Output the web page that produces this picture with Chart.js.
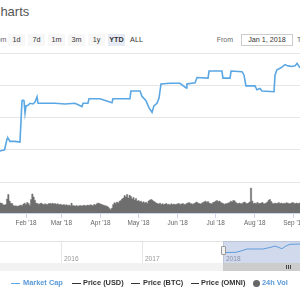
<!DOCTYPE html>
<html>
<head>
<meta charset="utf-8">
<script src="https://cdn.jsdelivr.net/npm/chart.js@4.4.1/dist/chart.umd.min.js"></script>
<style>
  html, body { margin: 0; padding: 0; width: 300px; height: 300px; overflow: hidden; background: #fff; font-family: "Liberation Sans", Arial, sans-serif; }
  .abs { position: absolute; }
  #titulo { left: -9px; top: 5px; font-size: 13px; line-height: 13px; color: #555; white-space: nowrap; }
  .btn { position: absolute; top: 34px; width: 17px; height: 12px; line-height: 12px; text-align: center; font-size: 7.2px; color: #333; background: #f7f7f7; }
  .btn.ativo { background: #e6ebf5; font-weight: bold; }
  .btn.livre { background: transparent; }
  #zoomTxt { left: -12px; top: 34px; line-height: 12px; font-size: 7.2px; color: #666; }
  #deTxt { left: 200px; top: 34px; width: 33px; text-align: right; line-height: 12px; font-size: 7px; color: #666; }
  #dataIni { left: 241px; top: 34px; width: 52px; height: 12px; box-sizing: border-box; border: 1px solid #ccc; text-align: center; line-height: 10px; font-size: 7.2px; color: #333; }
  #ateTxt { left: 297px; top: 34px; line-height: 12px; font-size: 7px; color: #666; }
  canvas { position: absolute; left: 0; }
  #navBorda { left: 0; top: 241px; width: 300px; height: 1px; background: #e2e2e2; }
  #mascara { top: 241px; height: 22px; width: 120px; background: rgba(102,133,194,0.3); }
  #alca { top: 246px; width: 5px; height: 9px; box-sizing: border-box; border: 1px solid #999; border-radius: 1px; background: #f2f2f2; }
  #trilha { left: 0; top: 263px; width: 300px; height: 8px; background: #f2f2f2; }
  #polegar { top: 263px; height: 8px; width: 120px; background: #cccccc; }
  .grip { top: 265px; width: 1px; height: 4px; background: #444; }
  .ano { top: 254.5px; font-size: 6.6px; line-height: 7px; color: #999; }
  .leg { position: absolute; top: 279px; font-size: 7.4px; line-height: 8px; font-weight: bold; color: #333; white-space: nowrap; }
  .simb { position: absolute; top: 282.6px; height: 1.4px; background: #333; }
  .azul { color: #5a9ad8; }
</style>
</head>
<body>
<div id="titulo" class="abs">Charts</div>
<div id="zoomTxt" class="abs">Zoom</div>
<div id="botoes"></div>
<div id="deTxt" class="abs">From</div>
<div id="dataIni" class="abs">Jan 1, 2018</div>
<div id="ateTxt" class="abs">To</div>

<canvas id="graficoVolume" width="340" height="49" style="top:179px"></canvas>
<canvas id="graficoMercado" width="340" height="135" style="top:50px"></canvas>
<div id="navBorda" class="abs"></div>
<canvas id="graficoNav" width="340" height="21" style="top:242px"></canvas>
<div id="anos"></div>
<div id="mascara" class="abs"></div>
<div id="trilha" class="abs"></div>
<div id="polegar" class="abs"></div>
<div id="alca" class="abs"></div>

<div class="simb" style="left:11px;width:9px;background:#5aa7e4"></div>
<div class="leg azul" style="left:23px">Market Cap</div>
<div class="simb" style="left:72px;width:9px"></div>
<div class="leg" style="left:83px">Price (USD)</div>
<div class="simb" style="left:131px;width:9px"></div>
<div class="leg" style="left:143px">Price (BTC)</div>
<div class="simb" style="left:191px;width:8px"></div>
<div class="leg" style="left:201px">Price (OMNI)</div>
<div class="abs" style="left:252.5px;top:279.8px;width:7px;height:7px;border-radius:50%;background:#666"></div>
<div class="leg azul" style="left:262px">24h Vol</div>

<script>
// dia do ano (2018) e valor de mercado (milhões USD)
const diasMercado = [11.4, 15, 17, 17.7, 19.3, 23.3, 27.2, 28.8, 29.6, 30.4, 31.2, 32, 33.6, 35.1, 37.5, 39.1, 40.7, 41.5,
  47, 54.9, 62.8, 70.7, 76.3, 77.1, 81, 81.8, 90.5, 100, 100.8, 114.2, 115, 122.2, 123.7, 126.9, 129.3, 131.7,
  133.2, 135.6, 137.2, 138.8, 145.9, 153.8, 158.6, 159.3, 165.7, 167.3, 176, 176.8, 187, 187.8, 193.4, 194.2,
  202.9, 204.4, 206, 213.1, 214.7, 217.1, 218.7, 228.2, 229, 230.5, 233.7, 236.9, 239.3, 242.4, 244.8, 246.4, 248.8];
const valorMercado = [48, 50, 67, 68, 63, 63, 62, 126, 127, 126, 107, 118, 119, 122, 121, 124, 132, 122,
  122, 122, 121, 122, 117, 122, 122, 129, 129, 123, 129, 129, 141, 141, 133, 126, 115, 108,
  118, 122, 130, 152, 153, 153, 146, 152, 154, 162, 161, 172, 172, 161, 161, 172,
  171, 166, 149, 149, 143, 145, 141, 140, 166, 174, 177, 182, 180, 179, 180, 184, 177];

// volume 24h, um valor por dia a partir do dia 11
const volPrimeiroDia = 11;
const volume24h = [
  103, 100, 95, 82, 80,
  85, 140, 185, 120, 97,
  95, 75, 70, 72, 68, 70, 74, 80, 72, 90,
  98, 85, 105, 95, 78, 135, 190, 160, 128, 100,
  95, 88, 92, 100, 90, 86, 92, 88, 85, 95,
  96, 92, 98, 90, 94, 88, 92, 85, 88, 82,
  80, 84, 78, 82, 76, 80, 70, 98, 75, 72,
  70, 74, 68, 72, 76, 70, 74, 78, 72, 76,
  80, 75, 82, 78, 76, 84, 80, 92, 100, 96,
  90, 84, 80, 76, 72, 68, 60, 45, 35, 50,
  85, 103, 95, 110, 100, 118, 125, 140, 150, 175,
  160, 185, 150, 178, 165, 140, 155, 130, 145, 120,
  125, 115, 118, 105, 112, 100, 108, 98, 120, 130,
  135, 128, 118, 110, 100, 95, 90, 98, 88, 92,
  86, 90, 95, 84, 88, 80, 92, 86, 90, 84,
  88, 92, 95, 86, 90, 95, 88, 84, 95, 100,
  105, 96, 92, 88, 95, 102, 110, 100, 95, 90,
  98, 105, 112, 118, 108, 115, 100, 96, 92, 105,
  110, 118, 125, 115, 120, 108, 100, 95, 88, 92,
  96, 100, 105, 118, 110, 125, 122, 105, 98, 95,
  100, 92, 96, 104, 110, 98, 95, 100, 110, 250,
  120, 95, 100, 92, 105, 98, 94, 100, 105, 96,
  92, 100, 110, 128, 135, 115, 98, 92, 100, 95,
  98, 104, 96, 100, 92, 98, 95, 102, 100, 96,
  92, 100, 105, 98, 95, 100, 94, 98, 102
];

const mesesDias = [32, 60, 91, 121, 152, 182, 213, 244];
const mesesRotulos = ["Feb '18", "Mar '18", "Apr '18", "May '18", "Jun '18", "Jul '18", "Aug '18", "Sep '18"];

// navegador (anos)
const navAnos = [2016, 2017, 2018];
const navRotulos = ['2016', '2017', '2018'];
const navX = [2018.0, 2018.148, 2018.21, 2018.284, 2018.48, 2018.568, 2018.63, 2018.716, 2018.765, 2018.815, 2018.938];
const navValores = [10.5, 10.7, 12, 14, 14, 15.5, 17, 14.3, 17, 18.7, 19];

const botoes = ['1d', '7d', '1m', '3m', '1y', 'YTD', 'ALL'];

const inicioDia = 11.4, fimDia = 280.4;
const azul = '#5aa7e4';

function criarBotoes() {
    const container = document.getElementById('botoes');
    botoes.forEach((b, i) => {
        const div = document.createElement('div');
        div.className = 'btn' + (b === 'YTD' ? ' ativo' : '') + (b === 'ALL' ? ' livre' : '');
        div.style.left = (8 + i * 20) + 'px';
        div.textContent = b;
        container.appendChild(div);
    });
}

function criarGraficoMercado() {
    const ctx = document.getElementById('graficoMercado').getContext('2d');
    new Chart(ctx, {
        type: 'line',
        data: {
            datasets: [{
                data: diasMercado.map((d, i) => ({ x: d, y: valorMercado[i] })),
                borderColor: azul,
                borderWidth: 1.6,
                pointRadius: 0,
                tension: 0
            }]
        },
        options: {
            responsive: false,
            animation: false,
            events: [],
            layout: { padding: { top: 3, bottom: 3, left: 0, right: 0 } },
            plugins: { legend: { display: false }, tooltip: { enabled: false } },
            scales: {
                x: { type: 'linear', min: inicioDia, max: fimDia, display: false },
                y: {
                    min: 0, max: 200,
                    ticks: { display: false, stepSize: 50 },
                    grid: { color: '#e6e6e6', drawTicks: false },
                    border: { display: false }
                }
            }
        }
    });
}

function criarGraficoVolume() {
    const ctx = document.getElementById('graficoVolume').getContext('2d');
    new Chart(ctx, {
        type: 'line',
        data: {
            datasets: [{
                data: volume24h.map((v, i) => ({ x: volPrimeiroDia + i, y: v })),
                borderColor: '#6e6e6e',
                backgroundColor: '#6e6e6e',
                borderWidth: 0.5,
                pointRadius: 0,
                stepped: 'middle',
                fill: 'origin'
            }]
        },
        options: {
            responsive: false,
            animation: false,
            events: [],
            layout: { padding: { top: 3, bottom: 0, left: 0, right: 0 } },
            plugins: { legend: { display: false }, tooltip: { enabled: false } },
            scales: {
                x: {
                    type: 'linear', min: inicioDia, max: fimDia,
                    afterBuildTicks: axis => { axis.ticks = mesesDias.map(v => ({ value: v })); },
                    ticks: {
                        autoSkip: false, maxRotation: 0, padding: 1, color: '#666',
                        font: { family: '"Liberation Sans", Arial, sans-serif', size: 6.4, lineHeight: 1.25 },
                        callback: v => mesesRotulos[mesesDias.indexOf(v)]
                    },
                    grid: { drawOnChartArea: false, drawTicks: true, tickLength: 5, color: '#ccd6eb' },
                    border: { display: true, color: '#ccd6eb' }
                },
                y: {
                    min: 0, max: 310,
                    afterBuildTicks: axis => { axis.ticks = [{ value: 310 }]; },
                    ticks: { display: false },
                    grid: { color: '#e6e6e6', drawTicks: false },
                    border: { display: false }
                }
            }
        }
    });
}

function criarNavegador() {
    const ctx = document.getElementById('graficoNav').getContext('2d');
    const nav = new Chart(ctx, {
        type: 'line',
        data: {
            datasets: [{
                data: navX.map((x, i) => ({ x: x, y: navValores[i] })),
                borderColor: azul,
                borderWidth: 1,
                pointRadius: 0,
                tension: 0
            }]
        },
        options: {
            responsive: false,
            animation: false,
            events: [],
            layout: { padding: 0 },
            plugins: { legend: { display: false }, tooltip: { enabled: false } },
            scales: {
                x: {
                    type: 'linear', min: 2015.235, max: 2015.235 + 340 / 81,
                    afterBuildTicks: axis => { axis.ticks = navAnos.map(v => ({ value: v })); },
                    ticks: { display: false },
                    grid: { color: '#e6e6e6', drawTicks: false },
                    border: { display: false }
                },
                y: { min: 0, max: 21, display: false }
            }
        }
    });

    const escala = nav.scales.x;
    const anos = document.getElementById('anos');
    navAnos.forEach((a, i) => {
        const span = document.createElement('div');
        span.className = 'abs ano';
        span.style.left = (escala.getPixelForValue(a) + 2) + 'px';
        span.textContent = navRotulos[i];
        anos.appendChild(span);
    });

    // janela selecionada (YTD)
    const x0 = Math.round(escala.getPixelForValue(2018)) - 1;
    document.getElementById('mascara').style.left = x0 + 'px';
    document.getElementById('polegar').style.left = x0 + 'px';
    document.getElementById('alca').style.left = (x0 - 2.5) + 'px';
    [286, 288, 290].forEach(g => {
        const d = document.createElement('div');
        d.className = 'abs grip';
        d.style.left = g + 'px';
        document.body.appendChild(d);
    });
}

criarBotoes();
criarGraficoVolume();
criarGraficoMercado();
criarNavegador();
</script>
</body>
</html>
